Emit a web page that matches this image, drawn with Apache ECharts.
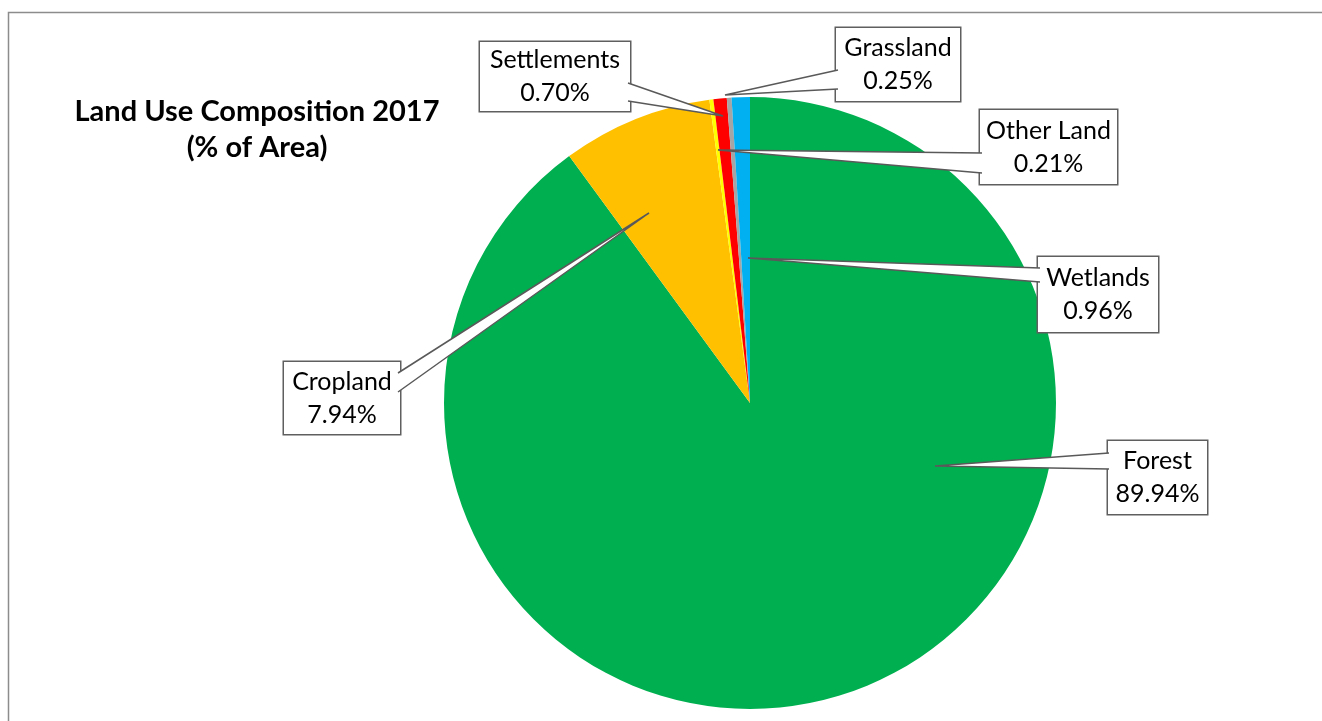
<!DOCTYPE html>
<html>
<head>
<meta charset="utf-8">
<script src="https://cdn.jsdelivr.net/npm/echarts@6/dist/echarts.min.js"></script>
<style>
html,body{margin:0;padding:0;background:#fff;}
#chart{width:1322px;height:721px;}
</style>
</head>
<body>
<div id="chart"></div>
<script>
// ---- data ----
var categories = ['Forest', 'Cropland', 'Other Land', 'Settlements', 'Grassland', 'Wetlands'];
var values = [89.94, 7.94, 0.21, 0.70, 0.25, 0.96];
var colors = ['#00B050', '#FFC000', '#FFFF00', '#FF0000', '#A5A5A5', '#00B0F0'];
var titleLines = ['Land Use Composition 2017', '(% of Area)'];

// ---- callout layout (label boxes and wedge pointers) ----
var callouts = {
  'Forest':      {cx: 1157.5, cy: 477.5, w: 99,  h: 73, tip: [935, 466], base: [[1109, 453], [1109, 469]]},
  'Cropland':    {cx: 342,    cy: 398,   w: 116, h: 72, tip: [649, 213], base: [[398, 373], [398, 392]]},
  'Other Land':  {cx: 1048.5, cy: 147,   w: 137, h: 74, tip: [718, 150], base: [[982, 153], [982, 173]]},
  'Settlements': {cx: 555,    cy: 76.5,  w: 150, h: 69, tip: [723, 116], base: [[628, 83], [628, 101]]},
  'Grassland':   {cx: 898,    cy: 64.5,  w: 124, h: 73, tip: [725, 95],  base: [[838, 70], [838, 89]]},
  'Wetlands':    {cx: 1098,   cy: 294.5, w: 120, h: 75, tip: [748, 258], base: [[1040, 268], [1040, 282]]}
};
var LINE_H = 33;

var seriesData = categories.map(function (name, i) {
  var L = callouts[name];
  var pv = Math.max(0, (L.h - 2 * LINE_H) / 2);
  return {
    name: name,
    value: values[i],
    itemStyle: {color: colors[i]},
    label: {width: L.w, padding: [pv, 0, pv, 0]}
  };
});

var graphics = [{
  type: 'rect',
  z: 0,
  shape: {x: 8.5, y: 12.5, width: 3000, height: 3000},
  style: {fill: 'none', stroke: '#8c8c8c', lineWidth: 1.5},
  silent: true
}];
categories.forEach(function (name) {
  var L = callouts[name];
  graphics.push({
    type: 'polyline',
    z: 100,
    shape: {points: [L.base[0], L.tip, L.base[1]]},
    style: {fill: '#ffffff', stroke: '#595959', lineWidth: 1.5},
    silent: true
  });
});

var chart = echarts.init(document.getElementById('chart'), null, {renderer: 'canvas'});
chart.setOption({
  backgroundColor: '#ffffff',
  animation: false,
  title: {
    text: titleLines.join('\n'),
    left: 252,
    top: 89,
    textAlign: 'center',
    textStyle: {
      fontFamily: 'Lato',
      fontWeight: 'bold',
      fontSize: 29,
      lineHeight: 36,
      color: '#000000',
      align: 'center'
    }
  },
  graphic: graphics,
  series: [{
    type: 'pie',
    center: [750, 403],
    radius: 306,
    startAngle: 90,
    clockwise: true,
    avoidLabelOverlap: false,
    minAngle: 0,
    itemStyle: {borderWidth: 0},
    emphasis: {disabled: true},
    data: seriesData,
    label: {
      show: true,
      position: 'outside',
      formatter: function (p) { return p.name + '\n' + p.value.toFixed(2) + '%'; },
      fontFamily: 'Lato',
      fontSize: 25,
      lineHeight: LINE_H,
      color: '#000000',
      align: 'center',
      backgroundColor: '#ffffff',
      borderColor: '#5f5f5f',
      borderWidth: 1.5
    },
    labelLine: {show: false},
    labelLayout: function (params) {
      var L = callouts[categories[params.dataIndex]];
      return {x: L.cx, y: L.cy, align: 'center', verticalAlign: 'middle'};
    }
  }]
});
</script>
</body>
</html>
